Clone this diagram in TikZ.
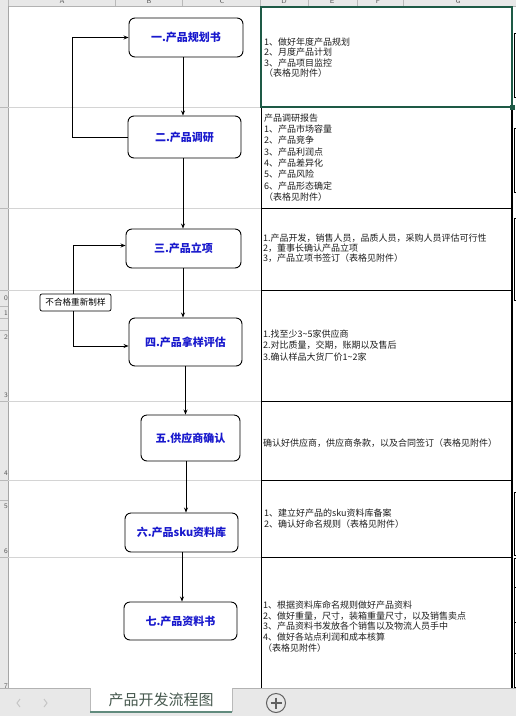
\documentclass[tikz,border=0pt]{standalone}
\usepackage{fontspec}
\newfontfamily\cjk{Noto Sans CJK SC}
\usetikzlibrary{arrows.meta}
\definecolor{boxblue}{RGB}{25,25,205}
\definecolor{selgreen}{RGB}{30,90,70}
\definecolor{gridgray}{RGB}{212,212,212}
\definecolor{hdrgray}{RGB}{232,232,232}
\definecolor{tabtext}{RGB}{70,88,78}
\definecolor{celltxt}{RGB}{30,30,30}
\begin{document}
\begin{tikzpicture}[x=1pt,y=-1pt,
  flowbox/.style={draw=black, line width=0.9pt, rounded corners=6pt, fill=white,
    font=\cjk\bfseries\fontsize{11}{12}\selectfont, text=boxblue, inner sep=0},
  arr/.style={line width=0.8pt, -{Stealth[length=5pt,width=4pt]}},
  celltext/.style={anchor=west, align=left, inner sep=0,
    font=\cjk\fontsize{9}{11}\selectfont, text=celltxt},
  grid/.style={draw=gridgray, line width=0.6pt},
  border/.style={draw=black, line width=0.9pt},
  hdrtext/.style={font=\sffamily\fontsize{7}{8}\selectfont, text=gray!70!black, inner sep=0},
  edgebox/.style={draw=black, line width=0.6pt}]
\useasboundingbox (0,0) rectangle (516,716);
\fill[white] (0,0) rectangle (516,716);

% column header
\begin{scope}
  \clip (0,0) rectangle (516,6);
  \fill[hdrgray] (0,0) rectangle (516,6);
  \foreach \x/\l in {62/A,149/B,222/C,284/D,332/E,378/F,458/G}
    \node[hdrtext] at (\x,1.5) {\l};
  \foreach \x in {8,115,182,260,308,357,403}
    \draw[gray!55] (\x,0) -- (\x,6);
\end{scope}
\draw[gray!60, line width=0.6pt] (0,6.3) -- (516,6.3);

% row header strip
\begin{scope}
  \clip (0,6) rectangle (8,688);
  \fill[hdrgray] (0,6) rectangle (8,688);
  \foreach \y in {107,208,290,306,318,330,401,480,500,557}
    \draw[gray!55] (0,\y) -- (8,\y);
  \foreach \y/\d in {298/0,313/1,337/2,395/3,473/4,506/5,551/6,686/7}
    \node[hdrtext, anchor=east] at (8,\y) {\d};
\end{scope}
\draw[gray!70, line width=0.6pt] (8,6) -- (8,688);

% grid lines on the left area
\foreach \y in {107,208,290,401,480,557}
  \draw[grid] (8,\y) -- (261,\y);

% right table
\draw[border] (261,107) -- (261,688);
\draw[draw=black, line width=1.3pt] (512,107) -- (512,688);
\foreach \y in {208,290,401,480,557}
  \draw[border] (261,\y) -- (512,\y);
\draw[selgreen, line width=2pt] (261,7) rectangle (512,107);
\fill[selgreen] (510,105) rectangle (514.5,109.5);

% partial boxes beyond the right edge
\foreach \a/\b in {33/97,128/192,218/300,492/555,558/687}
  \draw[edgebox] (516,\a) -- (513.8,\a) -- (513.8,\b) -- (516,\b);
\foreach \y in {587,622,653}
  \draw[edgebox] (513.8,\y) -- (516,\y);

% flow boxes
\node[flowbox, minimum width=114pt, minimum height=39pt] (b1) at (186,37.5) {一.产品规划书};
\node[flowbox, minimum width=113pt, minimum height=42pt] (b2) at (184.5,137) {二.产品调研};
\node[flowbox, minimum width=115pt, minimum height=39pt] (b3) at (183.5,248.5) {三.产品立项};
\node[flowbox, minimum width=113pt, minimum height=48pt] (b4) at (185.5,342) {四.产品拿样评估};
\node[flowbox, minimum width=99pt, minimum height=46pt] (b5) at (190.5,438) {五.供应商确认};
\node[flowbox, minimum width=113pt, minimum height=39pt] (b6) at (181.5,532.5) {六.产品sku资料库};
\node[flowbox, minimum width=113pt, minimum height=38pt] (b7) at (180.5,621) {七.产品资料书};

\node[draw=black, line width=0.7pt, rounded corners=2pt, fill=white, inner sep=0,
  minimum width=71pt, minimum height=17pt, font=\cjk\fontsize{8.6}{10}\selectfont]
  (lbl) at (75.5,302.5) {不合格重新制样};

% connectors
\coordinate (c72) at (72,0);
\coordinate (c73) at (73,0);
\coordinate (c183) at (183,0);
\coordinate (c182) at (182,0);
\coordinate (c185) at (185.5,0);
\coordinate (c186) at (186,0);
\draw[arr] (c183 |- b1.south) -- (c183 |- b2.north);
\draw[arr] (b2.west) -| (c72 |- b1.west) -- (b1.west);
\draw[arr] (c183 |- b2.south) -- (c183 |- b3.north);
\draw[arr] (c183 |- b3.south) -- (c183 |- b4.north);
\draw[arr] (c73 |- lbl.north) |- ([yshift=3pt]b3.west);
\draw[arr] (c73 |- lbl.south) |- ([yshift=-4pt]b4.west);
\draw[arr] (c185 |- b4.south) -- (c185 |- b5.north);
\draw[arr] (c186 |- b5.south) -- (c186 |- b6.north);
\draw[arr] (c182 |- b6.south) -- (c182 |- b7.north);

% cell texts
\node[celltext, font=\cjk\fontsize{9}{10.4}\selectfont] (t1) at (264,57.5) {1、做好年度产品规划\\2、月度产品计划\\3、产品项目监控\\（表格见附件）};
\node[celltext, font=\cjk\fontsize{9}{11.3}\selectfont] (t2) at (264,157.5) {产品调研报告\\1、产品市场容量\\2、产品竞争\\3、产品利润点\\4、产品差异化\\5、产品风险\\6、产品形态确定\\（表格见附件）};
\node[celltext, font=\cjk\fontsize{9}{10.2}\selectfont] (t3) at (263,248) {1.产品开发，销售人员，品质人员，采购人员评估可行性\\2，董事长确认产品立项\\3，产品立项书签订（表格见附件）};
\node[celltext, font=\cjk\fontsize{9}{11.5}\selectfont] (t4) at (263,345.5) {1.找至少3\textasciitilde 5家供应商\\2.对比质量，交期，账期以及售后\\3.确认样品大货厂价1\textasciitilde 2家};
\node[celltext] (t5) at (263,443) {确认好供应商，供应商条款，以及合同签订（表格见附件）};
\node[celltext] (t6) at (264,518.5) {1、建立好产品的sku资料库备案\\2、确认好命名规则（表格见附件）};
\node[celltext, font=\cjk\fontsize{9}{10.8}\selectfont] (t7) at (263,626.5) {1、根据资料库命名规则做好产品资料\\2、做好重量，尺寸，装箱重量尺寸，以及销售卖点\\3、产品资料书发放各个销售以及物流人员手中\\4、做好各站点利润和成本核算\\（表格见附件）};

% bottom sheet bar
\fill[hdrgray] (0,688) rectangle (516,716);
\draw[gray!60, line width=0.6pt] (0,688) -- (516,688);
\fill[white] (90,688) rectangle (232,712);
\draw[gray!55, line width=0.6pt] (90,712) -- (90,688) (232,688) -- (232,712);
\draw[selgreen!70, line width=1.4pt] (90,712) -- (232,712);
\node[font=\cjk\fontsize{15}{17}\selectfont, text=tabtext, inner sep=0] (tab) at (161,700) {产品开发流程图};
\draw[gray!45, line width=1pt] (20,699) -- (17,703) -- (20,707);
\draw[gray!45, line width=1pt] (44,699) -- (47,703) -- (44,707);
\draw[gray!75!black, line width=1pt] (276,703) circle (9.5);
\draw[gray!75!black, line width=1.1pt] (270.5,703) -- (281.5,703) (276,697.5) -- (276,708.5);
\end{tikzpicture}
\end{document}
